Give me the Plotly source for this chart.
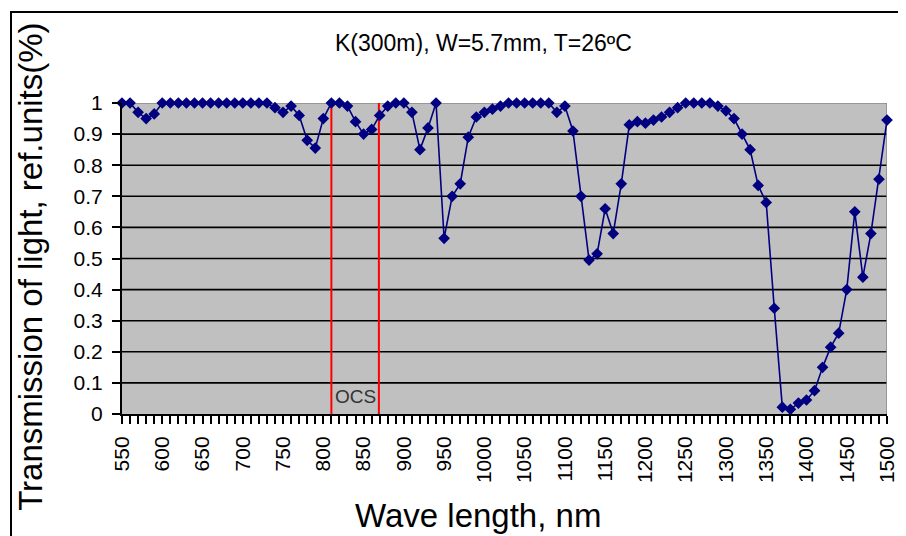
import plotly.graph_objects as go

wavelength_nm = list(range(550, 1501, 10))
transmission = [
    1.0, 1.0, 0.97, 0.95, 0.965, 1.0,                      # 550-600
    1.0, 1.0, 1.0, 1.0, 1.0, 1.0, 1.0, 1.0, 1.0, 1.0,      # 610-700
    1.0, 1.0, 1.0,                                          # 710-730
    0.985, 0.97, 0.99, 0.96, 0.88, 0.855, 0.95,             # 740-800
    1.0, 1.0, 0.99, 0.94, 0.90, 0.915, 0.96, 0.99, 1.0, 1.0,  # 810-900
    0.97, 0.85, 0.92, 1.0, 0.565, 0.70, 0.74, 0.89, 0.955, 0.97,  # 910-1000
    0.98, 0.99, 1.0, 1.0, 1.0, 1.0, 1.0, 1.0, 0.97, 0.99,   # 1010-1100
    0.91, 0.70, 0.495, 0.515, 0.66, 0.58, 0.74, 0.93, 0.94, 0.935,  # 1110-1200
    0.945, 0.955, 0.97, 0.985, 1.0, 1.0, 1.0, 1.0, 0.99, 0.975,     # 1210-1300
    0.95, 0.90, 0.85, 0.735, 0.68, 0.34, 0.022, 0.015, 0.035, 0.045,  # 1310-1400
    0.075, 0.15, 0.215, 0.26, 0.40, 0.65, 0.44, 0.58, 0.755, 0.945,   # 1410-1500
]
x_range = [550, 1500]
x_tick_vals = list(range(550, 1501, 50))
x_tick_text = [str(v) for v in x_tick_vals]
y_tick_vals = [0, 0.1, 0.2, 0.3, 0.4, 0.5, 0.6, 0.7, 0.8, 0.9, 1.0]
y_tick_text = ["0", "0.1", "0.2", "0.3", "0.4", "0.5", "0.6", "0.7", "0.8", "0.9", "1"]
ocs_bounds = [810, 869]
ocs_label = "OCS"
title_text = "K(300m), W=5.7mm, T=26ºC"
x_title = "Wave length, nm"
y_title = "Transmission of light, ref.units(%)"

FONT = "Liberation Sans, Arial, sans-serif"

fig = go.Figure()
fig.add_trace(go.Scatter(
    x=wavelength_nm, y=transmission, mode="lines+markers",
    line=dict(color="#000080", width=1.6),
    marker=dict(symbol="diamond", size=9, color="#000080"),
    cliponaxis=False, showlegend=False,
))

shapes = []
# black horizontal gridlines (0.1 .. 0.9)
for v in y_tick_vals[1:-1]:
    shapes.append(dict(type="line", xref="x", yref="y", x0=x_range[0], x1=x_range[1], y0=v, y1=v,
                       line=dict(color="black", width=1.6), layer="below"))
# gray top / right plot border
shapes.append(dict(type="line", xref="x", yref="y", x0=x_range[0], x1=x_range[1], y0=1, y1=1,
                   line=dict(color="#8a8a8a", width=1.5), layer="below"))
shapes.append(dict(type="line", xref="x", yref="y", x0=x_range[1], x1=x_range[1], y0=0, y1=1,
                   line=dict(color="#8a8a8a", width=1.5), layer="below"))
# OCS boundaries
for b in ocs_bounds:
    shapes.append(dict(type="line", xref="x", yref="y", x0=b, x1=b, y0=0, y1=1,
                       line=dict(color="#ff0000", width=2), layer="below"))
# outer chart frame (left and top edges visible)
shapes.append(dict(type="path", xref="paper", yref="paper",
                   path="M -0.1451,-0.6 L -0.1451,1.2926 L 1.3,1.2926",
                   line=dict(color="black", width=2)))

annotations = [
    dict(text=title_text, xref="paper", yref="paper", x=0.4725, y=1.193,
         xanchor="center", yanchor="middle",
         showarrow=False, font=dict(family=FONT, size=23, color="black")),
    dict(text=x_title, xref="paper", yref="paper", x=0.465, y=-0.325,
         xanchor="center", yanchor="middle",
         showarrow=False, font=dict(family=FONT, size=33, color="black")),
    dict(text=y_title, xref="paper", yref="paper", x=-0.119, y=0.473, textangle=-90,
         xanchor="center", yanchor="middle",
         showarrow=False, font=dict(family=FONT, size=33, color="black")),
    dict(text=ocs_label, xref="x", yref="paper", x=(ocs_bounds[0] + ocs_bounds[1]) / 2,
         y=0.0547, xanchor="center", yanchor="middle",
         showarrow=False, font=dict(family=FONT, size=19, color="#333333")),
]

fig.update_layout(
    width=906, height=536,
    margin=dict(l=114, r=27, t=95, b=130, autoexpand=False),
    paper_bgcolor="white", plot_bgcolor="#c0c0c0",
    font=dict(family=FONT, color="black"),
    shapes=shapes, annotations=annotations,
    xaxis=dict(range=x_range, tickvals=x_tick_vals, ticktext=x_tick_text,
               tickangle=-90, ticks="outside", ticklen=8, tickwidth=1.5, tickcolor="black",
               ticklabelstandoff=4,
               minor=dict(dtick=10, tick0=550, ticks="outside", ticklen=8, tickwidth=1.5,
                          tickcolor="black", showgrid=False),
               showgrid=False, zeroline=False, showline=True, linecolor="black", linewidth=2,
               tickfont=dict(family=FONT, size=21, color="black")),
    yaxis=dict(range=[0, 1], tickvals=y_tick_vals, ticktext=y_tick_text,
               ticks="outside", ticklen=8, tickwidth=1.5, tickcolor="black",
               ticklabelstandoff=5,
               showgrid=False, zeroline=False, showline=True, linecolor="black", linewidth=2,
               tickfont=dict(family=FONT, size=21, color="black")),
)

fig.write_html("out.html")
